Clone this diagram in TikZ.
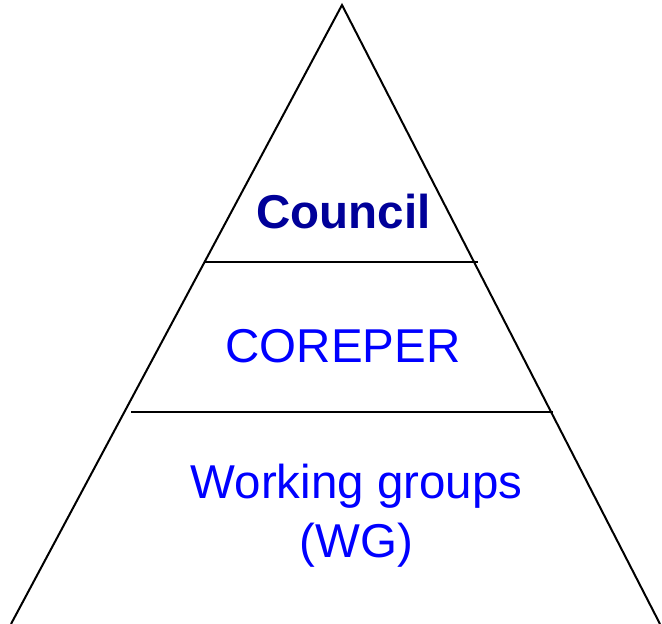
\documentclass[tikz,border=0pt]{standalone}
\usepackage{fontspec}
\setmainfont{Liberation Sans}
\definecolor{councilblue}{HTML}{000099}
\definecolor{levelblue}{HTML}{0000FF}
\begin{document}
\begin{tikzpicture}[x=1pt,y=-1pt,
  edge/.style={line width=2pt,black},
  tier/.style={font=\fontsize{47.5}{59}\selectfont,text=levelblue,anchor=base,inner sep=0pt,align=center}]
  \useasboundingbox (0,0) rectangle (662,624);
  % pyramid outline
  \coordinate (apex) at (342,5);
  \coordinate (baseL) at (11,624);
  \coordinate (baseR) at (660,624);
  \draw[edge] (baseL) -- (apex) -- (baseR);
  % tier separators
  \coordinate (s1L) at (205,262);
  \coordinate (s1R) at (478,262);
  \coordinate (s2L) at (131,412);
  \coordinate (s2R) at (553,412);
  \draw[edge] (s1L) -- (s1R);
  \draw[edge] (s2L) -- (s2R);
  % tier labels
  \node[tier,text=councilblue,font=\fontsize{47.5}{59}\selectfont\bfseries] (council) at (343.5,228) {Council};
  \node[tier] (coreper) at (343,362.5) {COREPER};
  \node[tier] (wg) at (356.5,557) {Working groups\\(WG)};
\end{tikzpicture}
\end{document}
